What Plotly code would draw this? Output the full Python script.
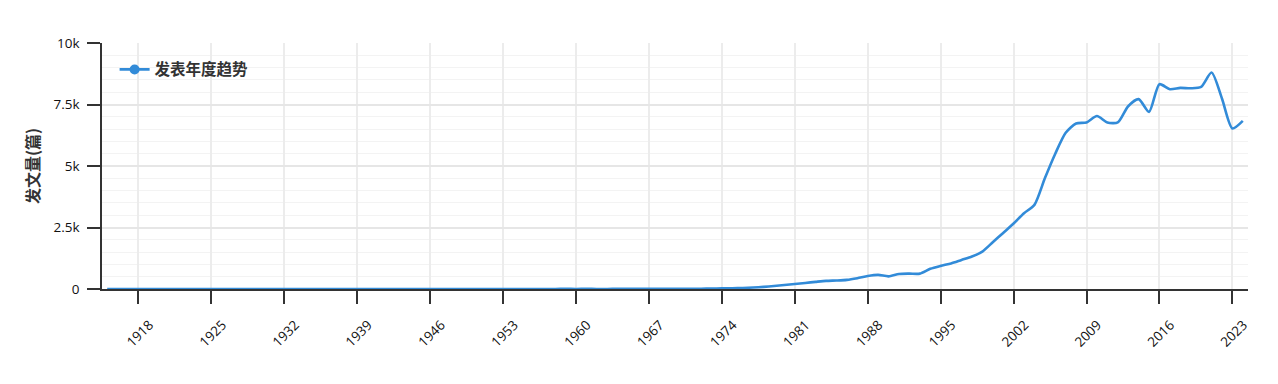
import plotly.graph_objects as go

years = list(range(1915, 2025))
early = [2, 1, 1, 2, 1, 1, 2, 1, 2, 1, 2, 2, 1, 2, 1, 2, 1, 1, 2, 2,
         1, 2, 1, 1, 2, 1, 1, 1, 1, 1, 2, 2, 1, 2, 2, 3, 2, 3, 2, 3,
         3, 2, 3, 3, 4, 3, 4, 3, 3, 4, 5, 5, 4, 5, 6, 6]  # 1915-1970
late = [8, 12, 18, 25, 30, 42, 60, 88, 120, 160,          # 1971-1980
        200, 245, 290, 330, 345, 370, 440, 530, 575, 515,  # 1981-1990
        610, 625, 625, 820, 940, 1040, 1180, 1320, 1520, 1900,  # 1991-2000
        2280, 2660, 3080, 3420, 4500, 5500, 6350, 6730, 6770, 7030,  # 2001-2010
        6770, 6770, 7430, 7717, 7200, 8325, 8122, 8175, 8160, 8216,  # 2011-2020
        8800, 7745, 6528, 6837]                              # 2021-2024
counts = early + late

tick_years = list(range(1918, 2024, 7))
series_name = "发表年度趋势"
y_title = "发文量(篇)"
y_ticks = [0, 2500, 5000, 7500, 10000]
y_tick_text = ["0", "2.5k", "5k", "7.5k", "10k"]

LINE = "#328bd8"
FONT = "Noto Sans CJK SC"
NUMFONT = "Open Sans"

fig = go.Figure()
fig.add_trace(go.Scatter(
    x=years, y=counts, mode="lines", name=series_name, showlegend=False,
    line=dict(color=LINE, width=2.6, shape="spline", smoothing=0.7),
    hoverinfo="x+y",
))
fig.add_trace(go.Scatter(
    x=[None], y=[None], mode="lines+markers", name=series_name,
    line=dict(color=LINE, width=2.6), marker=dict(color=LINE, size=10),
))

fig.update_layout(
    width=1278, height=384,
    margin=dict(l=102, r=30, t=43, b=95),
    paper_bgcolor="white", plot_bgcolor="white",
    font=dict(family=FONT, color="#222", size=12),
    showlegend=True,
    legend=dict(x=0.011, y=0.96, xanchor="left", yanchor="top",
                bgcolor="rgba(0,0,0,0)",
                font=dict(family=FONT, size=15.5, color="#333", weight="bold")),
    xaxis=dict(
        range=[1914.5, 2024.5], tickmode="array", tickvals=tick_years,
        ticktext=[str(t) for t in tick_years], tickangle=-45,
        ticks="outside", ticklen=13, tickwidth=1.5, tickcolor="#333",
        showline=True, linecolor="#333", linewidth=1.5,
        showgrid=True, gridcolor="#ececec", gridwidth=1.5,
        zeroline=False, tickfont=dict(family=NUMFONT, size=13.5, color="#111"),
        ticklabelstandoff=8, ticklabelshift=11,
    ),
    yaxis=dict(
        range=[0, 10000], tickmode="array", tickvals=y_ticks, ticktext=y_tick_text,
        ticks="outside", ticklen=13, tickwidth=1.5, tickcolor="#333",
        showline=True, linecolor="#333", linewidth=1.5,
        showgrid=True, gridcolor="#e6e6e6", gridwidth=1.5,
        minor=dict(dtick=500, tick0=0, showgrid=True, gridcolor="#f3f3f3", gridwidth=1, ticks=""),
        zeroline=False, tickfont=dict(family=NUMFONT, size=13.5, color="#111"),
        ticklabelstandoff=5,
        title=dict(text=y_title, font=dict(family=FONT, size=16, color="#333", weight="bold"), standoff=10),
    ),
)

fig.write_html("out.html")
